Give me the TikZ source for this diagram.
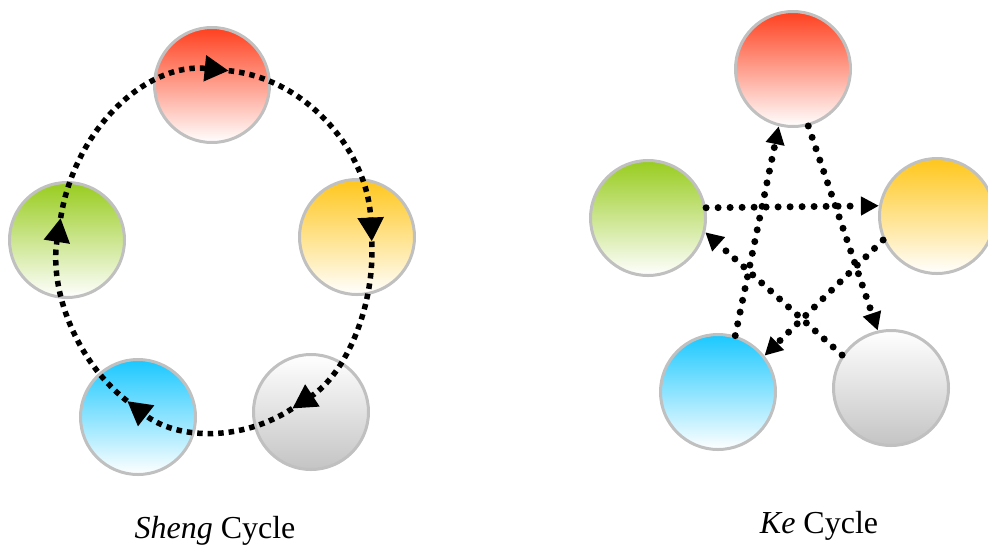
\documentclass[tikz,border=0pt]{standalone}
\usepackage{fontspec}
\setmainfont{Liberation Serif}
\usetikzlibrary{arrows.meta}

\definecolor{firered}{RGB}{255,64,30}
\definecolor{earthyel}{RGB}{255,198,26}
\definecolor{metalgray}{RGB}{196,196,196}
\definecolor{waterblue}{RGB}{26,200,255}
\definecolor{woodgreen}{RGB}{152,204,30}
\definecolor{rimgray}{RGB}{192,192,192}

\begin{document}
\begin{tikzpicture}[x=1pt,y=-1pt,
    elem/.style={circle,draw=rimgray,line width=3pt,minimum size=115pt,
        inner sep=0pt,bottom color=white},
    sheng/.style={line width=5.5pt,dash pattern=on 5.5pt off 5pt,
        -{Triangle[length=24pt,width=25pt]}},
    ke/.style={line width=7pt,line cap=round,dash pattern=on 0pt off 12pt,
        -{Triangle[length=18pt,width=18pt]}},
    lbl/.style={anchor=base,font=\fontsize{32}{38}\selectfont}]
\useasboundingbox (0,0) rectangle (988,547);

% Sheng cycle
\node[elem,top color=firered] (sfire) at (212,85) {};
\node[elem,top color=earthyel] (searth) at (357,237) {};
\node[elem,top color=white,bottom color=metalgray] (smetal) at (311,412) {};
\node[elem,top color=waterblue] (swater) at (138,417) {};
\node[elem,top color=woodgreen] (swood) at (67,240) {};
\coordinate (sc) at (215,251);
\foreach \a/\b in {-169.5/-85,-85/-3,-3/60.5,60.5/124,124/190.5}
  \draw[sheng] (sc) ++(\a:157 and 181)
     arc[start angle=\a,end angle=\b,x radius=157,y radius=181];
\node[lbl] (shenglbl) at (215,538) {\textit{Sheng} Cycle};

% Ke cycle
\node[elem,top color=firered] (kfire) at (793,69) {};
\node[elem,top color=earthyel] (kearth) at (937,216) {};
\node[elem,top color=white,bottom color=metalgray] (kmetal) at (891,388) {};
\node[elem,top color=waterblue] (kwater) at (718,392) {};
\node[elem,top color=woodgreen] (kwood) at (648,218) {};
\draw[ke] (kwood.10) -- (kearth.170);
\draw[ke] (kearth.204) -- (kwater.38);
\draw[ke] (kwater.73) -- (kfire.256);
\draw[ke] (kfire.-75) -- (kmetal.103);
\draw[ke] (kmetal.146) -- (kwood.-14);
\node[lbl] (kelbl) at (819,533) {\textit{Ke} Cycle};
\end{tikzpicture}
\end{document}
